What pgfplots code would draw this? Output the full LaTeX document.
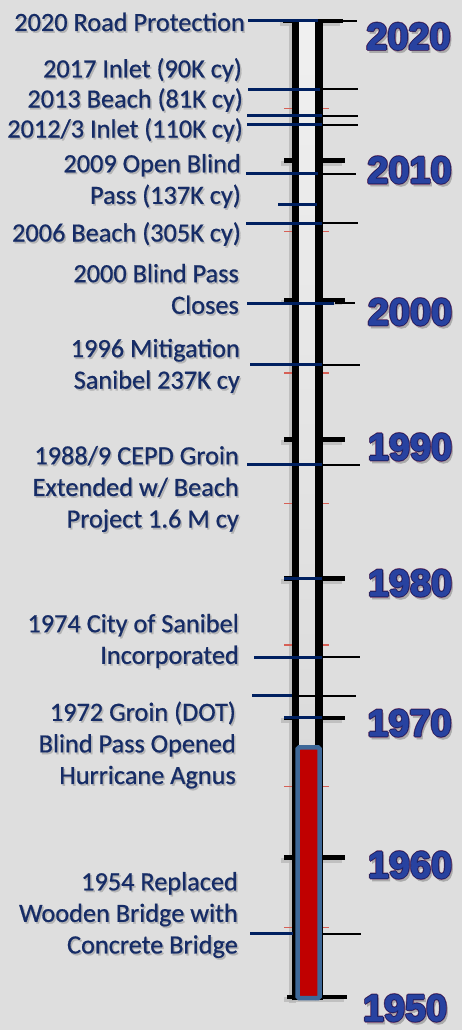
\documentclass[border=0pt]{standalone}
\usepackage{pgfplots}
\pgfplotsset{compat=1.18}
\usepackage{fontspec}
\setmainfont{Carlito}
\newfontfamily\evfont{Carlito}[FakeBold=0.7]
\newfontfamily\yearfont{Liberation Sans}[FakeBold=1.5]
\definecolor{bg}{RGB}{222,222,222}
\definecolor{navy}{RGB}{0,32,96}
\definecolor{txt}{RGB}{22,44,102}
\definecolor{txtshadow}{RGB}{180,180,180}
\definecolor{redbar}{RGB}{192,0,0}
\definecolor{steel}{RGB}{62,104,152}
\definecolor{mred}{RGB}{214,96,86}
\definecolor{yfill}{RGB}{40,66,160}
\definecolor{yedge}{RGB}{22,30,92}
\definecolor{yglow}{RGB}{120,70,115}
\definecolor{yshadow}{RGB}{170,170,170}
\definecolor{barlight}{RGB}{240,240,240}
\definecolor{bardark}{RGB}{212,212,212}
\definecolor{shad}{RGB}{185,185,185}
\tikzset{
  yls/.style={inner sep=0pt, anchor=center, font=\yearfont\bfseries\fontsize{38}{38}\selectfont},
  evs/.style={inner sep=0pt, anchor=east, align=right, font=\evfont\fontsize{26.4}{31.7}\selectfont},
}
\newcommand\yl[3]{%
  \node[yls,text=yshadow] at ([xshift=2bp,yshift=-3bp]axis cs:#1,#2) {#3};
  \node[yls,text=yglow] at ([xshift=1.2bp]axis cs:#1,#2) {#3};
  \node[yls,text=yglow] at ([xshift=-1.2bp]axis cs:#1,#2) {#3};
  \node[yls,text=yglow] at ([yshift=1.2bp]axis cs:#1,#2) {#3};
  \node[yls,text=yglow] at ([yshift=-1.2bp]axis cs:#1,#2) {#3};
  \node[yls,text=yedge] at ([xshift=0.6bp]axis cs:#1,#2) {#3};
  \node[yls,text=yedge] at ([xshift=-0.6bp]axis cs:#1,#2) {#3};
  \node[yls,text=yedge] at ([yshift=0.6bp]axis cs:#1,#2) {#3};
  \node[yls,text=yedge] at ([yshift=-0.6bp]axis cs:#1,#2) {#3};
  \node[yls,text=yfill] at (axis cs:#1,#2) {#3};
}
\newcommand\ev[3]{%
  \node[evs,text=txtshadow] at ([xshift=1.5bp,yshift=-1.8bp]axis cs:#1,#2) {#3};
  \node[evs,text=txt] at (axis cs:#1,#2) {#3};
}
\begin{document}
\begin{tikzpicture}
\begin{axis}[
  scale only axis, width=462bp, height=1030bp,
  xmin=0, xmax=462, ymin=1947.633, ymax=2021.505,
  axis line style={draw=none}, xtick=\empty, ytick=\empty,
  axis background/.style={fill=bg},
  clip=false,
]
% soft shadows of bar and major ticks
\addplot[shad, line width=7bp, opacity=0.8] coordinates {(292.5,1949.55) (292.5,2019.7)};
\addplot[shad, line width=5bp, opacity=0.8] coordinates {(281,2009.8) (342,2009.8)};
\addplot[shad, line width=5bp, opacity=0.8] coordinates {(281,1999.8) (342,1999.8)};
\addplot[shad, line width=5bp, opacity=0.8] coordinates {(281,1989.8) (342,1989.8)};
\addplot[shad, line width=5bp, opacity=0.8] coordinates {(281,1979.8) (342,1979.8)};
\addplot[shad, line width=5bp, opacity=0.8] coordinates {(281,1969.8) (342,1969.8)};
\addplot[shad, line width=5bp, opacity=0.8] coordinates {(281,1959.8) (342,1959.8)};
\addplot[shad, line width=5bp, opacity=0.8] coordinates {(284,1949.8) (344,1949.8)};
\addplot[shad, line width=5bp, opacity=0.8] coordinates {(280,2019.8) (340,2019.8)};
% minor (red) ticks
\addplot[mred, line width=1.3bp] coordinates {(284,2013.7) (329,2013.7)};
\addplot[mred, line width=1.3bp] coordinates {(284,2004.9) (329,2004.9)};
\addplot[mred, line width=1.3bp] coordinates {(284,1994.75) (329,1994.75)};
\addplot[mred, line width=1.3bp] coordinates {(284,1985.4) (329,1985.4)};
\addplot[mred, line width=1.3bp] coordinates {(284,1975.25) (329,1975.25)};
\addplot[mred, line width=1.3bp] coordinates {(284,1965.1) (329,1965.1)};
\addplot[mred, line width=1.3bp] coordinates {(284,1955.0) (329,1955.0)};
% major ticks
\addplot[black, line width=4.5bp] coordinates {(283,2020) (343,2020)};
\addplot[black, line width=1.3bp] coordinates {(340,2020) (357,2020)};
\addplot[black, line width=4.5bp] coordinates {(284,2010) (345,2010)};
\addplot[black, line width=4.5bp] coordinates {(284,2000) (345,2000)};
\addplot[black, line width=4.5bp] coordinates {(284,1990) (345,1990)};
\addplot[black, line width=4.5bp] coordinates {(284,1980) (345,1980)};
\addplot[black, line width=4.5bp] coordinates {(284,1970) (345,1970)};
\addplot[black, line width=4.5bp] coordinates {(284,1960) (345,1960)};
\addplot[black, line width=4.5bp] coordinates {(287,1950) (347,1950)};
% bar interior
\addplot[draw=none, top color=barlight, bottom color=bardark] coordinates {(299,1949.8) (315,1949.8) (315,2019.9) (299,2019.9)} -- cycle;
% bar sides
\addplot[black, line width=7bp] coordinates {(295.5,1949.75) (295.5,2019.9)};
\addplot[black, line width=8bp] coordinates {(319,1949.75) (319,2019.9)};
% thin black event lines (right side)
\addplot[black, line width=1.4bp] coordinates {(322,2015.12) (358,2015.12)};
\addplot[black, line width=1.4bp] coordinates {(322,2013.19) (358,2013.19)};
\addplot[black, line width=1.4bp] coordinates {(322,2012.54) (358,2012.54)};
\addplot[black, line width=1.4bp] coordinates {(322,2009.03) (356,2009.03)};
\addplot[black, line width=1.4bp] coordinates {(322,2005.51) (358,2005.51)};
\addplot[black, line width=1.4bp] coordinates {(335,1999.77) (355,1999.77)};
\addplot[black, line width=1.4bp] coordinates {(322,1995.33) (360,1995.33)};
\addplot[black, line width=1.4bp] coordinates {(322,1988.16) (360,1988.16)};
\addplot[black, line width=1.4bp] coordinates {(322,1974.38) (360,1974.38)};
\addplot[black, line width=1.4bp] coordinates {(285,1971.59) (356,1971.59)};
\addplot[black, line width=1.4bp] coordinates {(322,1954.52) (361,1954.52)};
% red bar (1950 - 1968)
\addplot[fill=redbar, draw=steel, line width=4.5bp, rounded corners=1.5bp] coordinates {(297.7,1949.92) (319.6,1949.92) (319.6,1967.9) (297.7,1967.9)} -- cycle;
% blue event lines
\addplot[navy, line width=3bp] coordinates {(248,2020.05) (318,2020.05)};
\addplot[navy, line width=3bp] coordinates {(248,2015.12) (320,2015.12)};
\addplot[navy, line width=3bp] coordinates {(247,2013.19) (322,2013.19)};
\addplot[navy, line width=3bp] coordinates {(247,2012.54) (322,2012.54)};
\addplot[navy, line width=3bp] coordinates {(246,2009.03) (318,2009.03)};
\addplot[navy, line width=3bp] coordinates {(278,2006.87) (317,2006.87)};
\addplot[navy, line width=3bp] coordinates {(246,2005.51) (322,2005.51)};
\addplot[navy, line width=3bp] coordinates {(247,1999.77) (334,1999.77)};
\addplot[navy, line width=3bp] coordinates {(250,1995.33) (322,1995.33)};
\addplot[navy, line width=3bp] coordinates {(247,1988.16) (322,1988.16)};
\addplot[navy, line width=3bp] coordinates {(284,1980) (322,1980)};
\addplot[navy, line width=3bp] coordinates {(254,1974.38) (322,1974.38)};
\addplot[navy, line width=3bp] coordinates {(252,1971.59) (292,1971.59)};
\addplot[navy, line width=3bp] coordinates {(284,1970.05) (322,1970.05)};
\addplot[navy, line width=3bp] coordinates {(250,1954.52) (293,1954.52)};
% year labels
\yl{408.5}{2018.89}{2020}
\yl{409.5}{2009.31}{2010}
\yl{410}{1999.13}{2000}
\yl{410}{1989.45}{1990}
\yl{410}{1979.69}{1980}
\yl{409.5}{1969.65}{1970}
\yl{410}{1959.47}{1960}
\yl{405}{1949.21}{1950}
% event labels
\ev{245}{2019.93}{2020 Road Protection}
\ev{242}{2016.49}{2017 Inlet (90K cy)}
\ev{243}{2014.33}{2013 Beach (81K cy)}
\ev{243}{2012.18}{2012/3 Inlet (110K cy)}
\ev{241}{2008.52}{2009 Open Blind\\Pass (137K cy)}
\ev{241}{2004.72}{2006 Beach (305K cy)}
\ev{239}{2000.78}{2000 Blind Pass\\Closes}
\ev{240}{1995.26}{1996 Mitigation\\Sanibel 237K cy}
\ev{239}{1986.43}{1988/9 CEPD Groin\\Extended w/ Beach\\Project 1.6 M cy}
\ev{239}{1975.53}{1974 City of Sanibel\\Incorporated}
\ev{236}{1968.07}{1972 Groin (DOT)\\Blind Pass Opened\\Hurricane Agnus}
\ev{238}{1955.88}{1954 Replaced\\Wooden Bridge with\\Concrete Bridge}
\end{axis}
\end{tikzpicture}
\end{document}
